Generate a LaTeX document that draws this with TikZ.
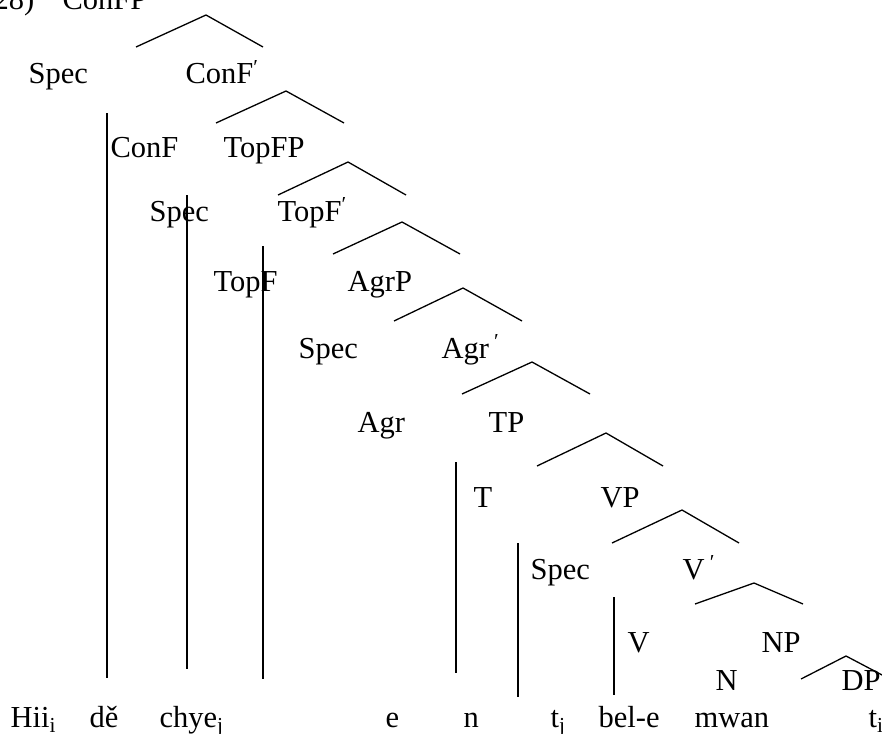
\documentclass[tikz,border=0pt]{standalone}
\usepackage{fontspec}
\setmainfont{Liberation Serif}
\usepackage{tikz}

\newcommand{\barlvl}{\textsuperscript{′}}

\begin{document}
\begin{tikzpicture}[x=1pt,y=-1pt,line width=1.3pt,
    every node/.style={anchor=base west,inner sep=0pt,font=\fontsize{30.5}{36}\selectfont}]
  \useasboundingbox (0,0) rectangle (882,733);
  % labels of the tree
  \node[anchor=base east] (num) at (35,10) {(28)};
  \node (conFP)   at (62,10)   {ConFP};
  \node (spec1)   at (28,84)   {Spec};
  \node (conFbar) at (185,84)  {ConF\barlvl};
  \node (conF)    at (110,157) {ConF};
  \node (topFP)   at (223,157) {TopFP};
  \node (spec2)   at (149,221) {Spec};
  \node (topFbar) at (277,221) {TopF\barlvl};
  \node (topF)    at (213,291) {TopF};
  \node (agrP)    at (347,291) {AgrP};
  \node (spec3)   at (298,358) {Spec};
  \node (agrbar)  at (441,358) {Agr\,\barlvl};
  \node (agr)     at (357,432) {Agr};
  \node (tP)      at (488,432) {TP};
  \node (t)       at (473,507) {T};
  \node (vP)      at (600,507) {VP};
  \node (spec4)   at (530,579) {Spec};
  \node (vbar)    at (682,579) {V\,\barlvl};
  \node (v)       at (627,652) {V};
  \node (nP)      at (761,652) {NP};
  \node (n)       at (715,690) {N};
  \node (dP)      at (841,690) {DP};
  % the words
  \node (hii)  at (10,727)  {Hii\textsubscript{i}};
  \node (de)   at (89,727)  {dě};
  \node (chye) at (159,727) {chye\textsubscript{j}};
  \node (e)    at (385,727) {e};
  \node (en)   at (463,727) {n};
  \node (tj)   at (550,727) {t\textsubscript{j}};
  \node (bele) at (598,727) {bel-e};
  \node (mwan) at (694,727) {mwan};
  \node (ti)   at (868,727) {t\textsubscript{i}};
  % branches
  \path (136,47) coordinate (b1l) (206,15) coordinate (b1) (263,47) coordinate (b1r);
  \path (216,123) coordinate (b2l) (286,91) coordinate (b2) (344,123) coordinate (b2r);
  \path (278,195) coordinate (b3l) (348,162) coordinate (b3) (406,195) coordinate (b3r);
  \path (333,254) coordinate (b4l) (402,222) coordinate (b4) (460,254) coordinate (b4r);
  \path (394,321) coordinate (b5l) (463,288) coordinate (b5) (522,321) coordinate (b5r);
  \path (462,394) coordinate (b6l) (532,362) coordinate (b6) (590,394) coordinate (b6r);
  \path (537,466) coordinate (b7l) (606,433) coordinate (b7) (663,466) coordinate (b7r);
  \path (612,543) coordinate (b8l) (682,510) coordinate (b8) (739,543) coordinate (b8r);
  \path (695,604) coordinate (b9l) (754,583) coordinate (b9) (803,604) coordinate (b9r);
  \path (801,679) coordinate (b10l) (846,656) coordinate (b10) (884,676) coordinate (b10r);
  \draw (b1l) -- (b1) -- (b1r);
  \draw (b2l) -- (b2) -- (b2r);
  \draw (b3l) -- (b3) -- (b3r);
  \draw (b4l) -- (b4) -- (b4r);
  \draw (b5l) -- (b5) -- (b5r);
  \draw (b6l) -- (b6) -- (b6r);
  \draw (b7l) -- (b7) -- (b7r);
  \draw (b8l) -- (b8) -- (b8r);
  \draw (b9l) -- (b9) -- (b9r);
  \draw (b10l) -- (b10) -- (b10r);
  % lines down to the words
  \path (107,113) coordinate (d1t) (107,678) coordinate (d1b);
  \path (187,195) coordinate (d2t) (187,669) coordinate (d2b);
  \path (263,246) coordinate (d3t) (263,679) coordinate (d3b);
  \path (456,462) coordinate (d4t) (456,673) coordinate (d4b);
  \path (518,543) coordinate (d5t) (518,697) coordinate (d5b);
  \path (614,597) coordinate (d6t) (614,695) coordinate (d6b);
  \draw (d1t) -- (d1b);
  \draw (d2t) -- (d2b);
  \draw (d3t) -- (d3b);
  \draw (d4t) -- (d4b);
  \draw (d5t) -- (d5b);
  \draw (d6t) -- (d6b);
\end{tikzpicture}
\end{document}
